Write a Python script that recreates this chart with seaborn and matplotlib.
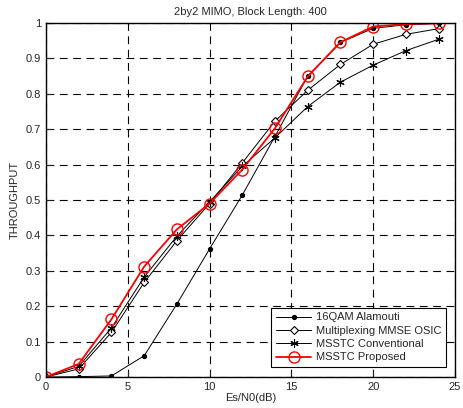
import numpy as np
import pandas as pd
import matplotlib
matplotlib.use("Agg")
import matplotlib.pyplot as plt
import seaborn as sns

snr = [0, 2, 4, 6, 8, 10, 12, 14, 16, 18, 20, 22, 24]
alamouti = [0.0, 0.001, 0.003, 0.06, 0.206, 0.362, 0.514, 0.68, 0.85, 0.945, 0.985, 0.995, 0.999]
mmse_osic = [0.0, 0.023, 0.126, 0.267, 0.385, 0.49, 0.605, 0.723, 0.81, 0.883, 0.94, 0.968, 0.984]
msstc_conv = [0.0, 0.03, 0.139, 0.282, 0.398, 0.495, 0.595, 0.676, 0.764, 0.833, 0.881, 0.922, 0.954]
msstc_prop = [0.0, 0.037, 0.163, 0.312, 0.417, 0.49, 0.586, 0.703, 0.849, 0.946, 0.99, 0.997, 0.999]

labels = ["16QAM Alamouti", "Multiplexing MMSE OSIC", "MSSTC Conventional", "MSSTC Proposed"]

sns.set_style("ticks")
plt.rcParams["font.family"] = ["Liberation Sans", "DejaVu Sans"]

fig = plt.figure(figsize=(4.63, 4.08), dpi=100)
ax = fig.add_axes([46 / 463, 31 / 408, 409 / 463, 354 / 408])

# series styles: (color, marker, markersize, markerface, linewidth)
styles = [
    ("black", "o", 3, "black", 0.7),
    ("black", "D", 4.5, "white", 0.7),
    ("black", (6, 2, 0), 6, "black", 0.7),
    ("red", "o", 8, "none", 1.3),
]
series = [alamouti, mmse_osic, msstc_conv, msstc_prop]

for vals, lab, (col, mk, ms, mf, lw) in zip(series, labels, styles):
    df = pd.DataFrame({"snr": snr, "tp": vals})
    sns.lineplot(data=df, x="snr", y="tp", ax=ax, color=col, marker=mk,
                 markersize=ms, markerfacecolor=mf, markeredgecolor=col,
                 markeredgewidth=1.0 if col == "red" else 0.8, linewidth=lw,
                 label=lab)

ax.set_xlim(0, 25)
ax.set_ylim(0, 1)
ax.set_xticks(np.arange(0, 26, 5))
ax.set_yticks(np.arange(0, 1.01, 0.1))
ax.set_yticklabels(["0", "0.1", "0.2", "0.3", "0.4", "0.5", "0.6", "0.7", "0.8", "0.9", "1"])
ax.grid(True, color="black", linestyle=(0, (7, 5)), linewidth=0.8)
ax.tick_params(direction="in", labelsize=8, length=4, width=0.8)
for s in ax.spines.values():
    s.set_visible(True)
    s.set_linewidth(1.0)
    s.set_color("black")

ax.set_xlabel("Es/N0(dB)", fontsize=8, labelpad=1)
ax.set_ylabel("THROUGHPUT", fontsize=8, labelpad=4)
ax.set_title("2by2 MIMO, Block Length: 400", fontsize=8, pad=6)

leg = ax.legend(loc="lower right", bbox_to_anchor=(0.991, 0.013), fontsize=8,
                frameon=True, fancybox=False, edgecolor="black", framealpha=1,
                borderpad=0.4, labelspacing=0.3, handlelength=3.2, handletextpad=0.4)
leg.get_frame().set_linewidth(0.8)

fig.savefig("out.png", dpi=100)
